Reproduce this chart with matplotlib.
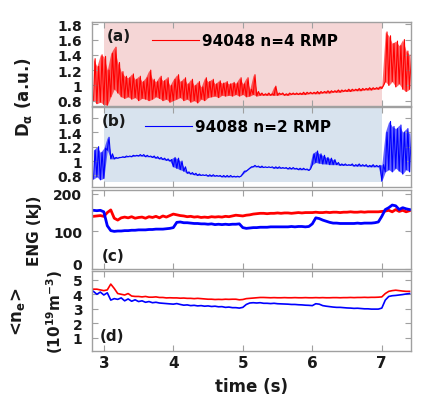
import numpy as np
import matplotlib
matplotlib.use("Agg")
import matplotlib.pyplot as plt

plt.rcParams['font.family'] = ['DejaVu Sans']
plt.rcParams['font.weight'] = 'bold'
plt.rcParams['mathtext.default'] = 'bf'

# ---------------- data ----------------
t_start, t_step, n_pts = 2.85, 0.05, 92
time = np.round(t_start + t_step * np.arange(n_pts), 2)

rmp_start, rmp_end = 3.0, 7.0

# (a) D-alpha 94048, lower / upper envelope of fast oscillation
da_red_lo = [0.80, 0.76, 0.78, 0.75, 0.74, 0.85, 0.95, 0.90, 0.85, 0.83,
             0.85, 0.82, 0.84, 0.80, 0.83, 0.82, 0.80, 0.82, 0.85, 0.83,
             0.80, 0.82, 0.78, 0.80, 0.82, 0.84, 0.80, 0.82, 0.78, 0.80,
             0.77, 0.82, 0.80, 0.84, 0.85, 0.86, 0.84, 0.87, 0.86, 0.87,
             0.86, 0.88, 0.86, 0.88, 0.85, 0.86, 0.88, 0.86, 0.87, 0.87,
             0.87, 0.87, 0.87, 0.87, 0.88, 0.87, 0.87, 0.88, 0.88, 0.88,
             0.88, 0.88, 0.89, 0.89, 0.89, 0.89, 0.90, 0.90, 0.90, 0.91,
             0.91, 0.91, 0.92, 0.92, 0.92, 0.93, 0.93, 0.93, 0.94, 0.94,
             0.94, 0.95, 0.95, 0.96, 1.05, 1.00, 1.05, 0.98, 1.02, 0.95,
             0.92, 0.95]
da_red_hi = [1.35, 1.25, 1.40, 1.38, 1.20, 1.42, 1.50, 1.30, 1.18, 1.12,
             1.10, 1.15, 1.08, 1.12, 1.05, 1.10, 1.20, 1.08, 1.05, 1.12,
             1.06, 1.10, 1.00, 1.08, 1.14, 1.05, 1.10, 1.02, 1.08, 1.00,
             1.05, 0.98, 1.10, 1.05, 1.08, 1.02, 1.06, 1.03, 1.05, 1.02,
             1.04, 1.03, 1.10, 1.02, 1.10, 0.95, 1.14, 0.92, 0.90, 0.89,
             0.90, 0.89, 0.99, 0.90, 0.90, 0.89, 0.90, 0.90, 0.90, 0.90,
             0.91, 0.91, 0.91, 0.91, 0.92, 0.92, 0.92, 0.93, 0.93, 0.93,
             0.94, 0.94, 0.94, 0.95, 0.95, 0.95, 0.96, 0.96, 0.96, 0.97,
             0.97, 0.97, 0.98, 1.00, 1.70, 1.65, 1.55, 1.58, 1.52, 1.60,
             1.45, 1.40]

# (b) D-alpha 94088
da_blue_lo = [0.75, 0.78, 0.74, 0.76, 1.15, 1.03, 1.03, 1.04, 1.05, 1.05,
              1.06, 1.06, 1.07, 1.07, 1.07, 1.06, 1.06, 1.05, 1.04, 1.03,
              1.02, 1.01, 1.00, 0.92, 0.90, 0.88, 0.86, 0.83, 0.82, 0.81,
              0.80, 0.80, 0.80, 0.79, 0.79, 0.79, 0.79, 0.78, 0.78, 0.78,
              0.78, 0.78, 0.78, 0.82, 0.86, 0.90, 0.92, 0.92, 0.91, 0.91,
              0.91, 0.91, 0.90, 0.90, 0.90, 0.90, 0.89, 0.89, 0.89, 0.88,
              0.88, 0.88, 0.87, 0.95, 0.98, 0.97, 0.96, 0.96, 0.95, 0.95,
              0.95, 0.94, 0.94, 0.94, 0.94, 0.93, 0.93, 0.93, 0.93, 0.92,
              0.92, 0.92, 0.92, 0.72, 0.85, 0.88, 0.85, 0.90, 0.86, 0.82,
              0.88, 0.85]
da_blue_hi = [1.15, 1.20, 1.12, 1.18, 1.33, 1.10, 1.05, 1.05, 1.06, 1.07,
              1.07, 1.08, 1.08, 1.09, 1.09, 1.08, 1.07, 1.07, 1.06, 1.05,
              1.04, 1.03, 1.02, 1.05, 1.04, 1.00, 0.92, 0.85, 0.84, 0.83,
              0.82, 0.81, 0.81, 0.81, 0.81, 0.80, 0.80, 0.80, 0.80, 0.80,
              0.79, 0.79, 0.79, 0.86, 0.88, 0.92, 0.94, 0.93, 0.93, 0.92,
              0.92, 0.92, 0.92, 0.92, 0.91, 0.91, 0.91, 0.91, 0.90, 0.90,
              0.90, 0.89, 0.89, 1.10, 1.14, 1.10, 1.08, 1.05, 1.04, 1.02,
              0.98, 0.96, 0.96, 0.95, 0.96, 0.95, 0.96, 0.95, 0.95, 0.94,
              0.95, 0.94, 0.94, 0.95, 1.40, 1.55, 1.48, 1.45, 1.50, 1.40,
              1.45, 1.38]

# (c) stored energy (kJ)
eng_red = [140, 141, 142, 140, 150, 157, 135, 130, 136, 138,
           136, 139, 135, 137, 138, 135, 139, 137, 140, 136,
           141, 138, 142, 146, 144, 142, 141, 139, 140, 138,
           139, 137, 138, 137, 139, 138, 139, 138, 140, 139,
           141, 143, 142, 141, 143, 144, 146, 147, 148, 148,
           147, 148, 148, 149, 148, 149, 149, 148, 149, 150,
           149, 150, 150, 150, 151, 150, 150, 151, 150, 151,
           151, 150, 151, 151, 152, 151, 151, 152, 151, 152,
           152, 152, 152, 153, 154, 156, 152, 158, 153, 156,
           152, 155]
eng_blue = [156, 155, 156, 152, 115, 102, 100, 101, 101, 102,
            102, 103, 103, 104, 104, 104, 105, 105, 106, 106,
            106, 107, 108, 110, 124, 125, 123, 123, 122, 121,
            121, 120, 120, 119, 120, 118, 119, 118, 119, 118,
            119, 119, 120, 110, 108, 109, 110, 110, 111, 111,
            111, 112, 112, 112, 112, 112, 112, 113, 112, 113,
            113, 112, 113, 120, 136, 134, 130, 127, 124, 122,
            122, 121, 121, 121, 121, 121, 122, 121, 122, 122,
            122, 123, 125, 140, 158, 163, 170, 168, 158, 163,
            160, 158]

# (d) line-averaged density (1e19 m^-3)
ne_red = [4.35, 4.35, 4.30, 4.25, 4.30, 4.70, 4.40, 4.05, 4.00, 3.95,
          4.05, 3.88, 3.85, 3.85, 3.82, 3.85, 3.80, 3.80, 3.82, 3.78,
          3.78, 3.75, 3.76, 3.75, 3.75, 3.73, 3.74, 3.72, 3.72, 3.70,
          3.72, 3.70, 3.68, 3.66, 3.66, 3.64, 3.65, 3.64, 3.66, 3.65,
          3.66, 3.66, 3.62, 3.64, 3.70, 3.72, 3.74, 3.76, 3.78, 3.78,
          3.77, 3.76, 3.77, 3.76, 3.76, 3.77, 3.76, 3.76, 3.77, 3.76,
          3.76, 3.77, 3.76, 3.76, 3.77, 3.76, 3.77, 3.76, 3.76, 3.77,
          3.77, 3.76, 3.77, 3.77, 3.78, 3.77, 3.78, 3.78, 3.79, 3.78,
          3.79, 3.79, 3.80, 3.82, 4.05, 4.20, 4.25, 4.28, 4.25, 4.22,
          4.20, 4.20]
ne_blue = [4.20, 4.00, 4.15, 3.95, 4.10, 3.60, 3.70, 3.65, 3.75, 3.55,
           3.68, 3.52, 3.62, 3.50, 3.55, 3.45, 3.50, 3.42, 3.45, 3.40,
           3.38, 3.36, 3.34, 3.32, 3.36, 3.30, 3.25, 3.27, 3.22, 3.24,
           3.20, 3.22, 3.18, 3.20, 3.16, 3.18, 3.14, 3.15, 3.10, 3.12,
           3.08, 3.08, 3.05, 3.10, 3.30, 3.40, 3.42, 3.40, 3.42, 3.38,
           3.38, 3.36, 3.38, 3.35, 3.34, 3.33, 3.32, 3.30, 3.30, 3.28,
           3.27, 3.25, 3.24, 3.22, 3.35, 3.32, 3.22, 3.18, 3.15, 3.12,
           3.10, 3.10, 3.08, 3.06, 3.05, 3.03, 3.04, 3.02, 3.00, 3.00,
           2.98, 2.98, 2.98, 3.05, 3.60, 3.85, 3.90, 3.92, 3.95, 3.98,
           4.02, 4.05]

legend_a = "94048 n=4 RMP"
legend_b = "94088 n=2 RMP"
xticks = [3, 4, 5, 6, 7]
yticks_a = [0.8, 1, 1.2, 1.4, 1.6, 1.8]
yticks_b = [0.8, 1, 1.2, 1.4, 1.6]
yticks_c = [0, 100, 200]
yticks_d = [1, 2, 3, 4, 5]

RED = '#ff0000'
BLUE = '#0000ff'
PINK = '#f5d6d6'
LIGHTBLUE = '#d8e3ee'
SPINE = '#a0a0a0'
TXT = '#1a1a1a'


def zigzag(t, lo, hi):
    t = np.asarray(t, float)
    x = np.empty(2 * len(t))
    y = np.empty(2 * len(t))
    x[0::2] = t
    x[1::2] = t + t_step / 2
    y[0::2] = lo
    y[1::2] = hi
    return x, y


W, H = 423, 402
fig = plt.figure(figsize=(W / 100, H / 100), dpi=100)
fig.patch.set_facecolor('white')

L, R = 92, 411


def add_ax(top, bottom):
    return fig.add_axes([L / W, 1 - bottom / H, (R - L) / W, (bottom - top) / H])


axa = add_ax(23, 107)
axb = add_ax(108, 188)
axc = add_ax(191, 270)
axd = add_ax(272, 352)

xlim = (2.83, 7.42)
for ax in (axa, axb, axc, axd):
    ax.set_xlim(*xlim)
    ax.set_xticks(xticks)
    for s in ax.spines.values():
        s.set_color(SPINE)
        s.set_linewidth(1.0)
    ax.tick_params(direction='in', top=True, right=True, length=4,
                   width=0.8, color=SPINE, labelcolor=TXT, labelsize=10,
                   pad=7)
    ax.tick_params(axis='x', pad=3, labelsize=11)
    for lab in ax.get_xticklabels() + ax.get_yticklabels():
        lab.set_fontweight('bold')

for ax in (axa, axb, axc):
    ax.tick_params(labelbottom=False)


def dense_trace(ax, lo, hi, color):
    ax.fill_between(time, lo, hi, color=color, lw=0, alpha=0.6)
    x, y = zigzag(time, lo, hi)
    line, = ax.plot(x, y, color=color, lw=0.8)
    return line


# (a)
axa.set_ylim(0.73, 1.83)
axa.set_yticks(yticks_a)
axa.set_yticklabels(['0.8', '1', '1.2', '1.4', '1.6', '1.8'])
axa.axvspan(rmp_start, rmp_end, color=PINK, lw=0, zorder=0)
la = dense_trace(axa, da_red_lo, da_red_hi, RED)
axa.legend([la], [legend_a], loc='center left', bbox_to_anchor=(0.188, 0.774),
           frameon=False, borderpad=0, borderaxespad=0, handlelength=3.1,
           handletextpad=0.2, prop={'weight': 'bold', 'size': 11})
axa.text(0.047, 0.845, '(a)', transform=axa.transAxes, fontsize=11,
         fontweight='bold', va='center', ha='left', color=TXT)

# (b)
axb.set_ylim(0.64, 1.75)
axb.set_yticks(yticks_b)
axb.set_yticklabels(['0.8', '1', '1.2', '1.4', '1.6'])
shade_b_bottom = 0.71
axb.fill_between([rmp_start, rmp_end], shade_b_bottom, 1.75, color=LIGHTBLUE,
                 lw=0, zorder=0)
lb = dense_trace(axb, da_blue_lo, da_blue_hi, BLUE)
axb.legend([lb], [legend_b], loc='center left', bbox_to_anchor=(0.166, 0.75),
           frameon=False, borderpad=0, borderaxespad=0, handlelength=3.1,
           handletextpad=0.2, prop={'weight': 'bold', 'size': 11})
axb.text(0.031, 0.83, '(b)', transform=axb.transAxes, fontsize=11,
         fontweight='bold', va='center', ha='left', color=TXT)

# (c)
axc.set_ylim(0, 210)
axc.set_yticks(yticks_c)
axc.plot(time, eng_red, color=RED, lw=2.0)
axc.plot(time, eng_blue, color=BLUE, lw=2.0)
axc.text(0.031, 0.165, '(c)', transform=axc.transAxes, fontsize=11,
         fontweight='bold', va='center', ha='left', color=TXT)
axc.yaxis.get_major_ticks()[0].label1.set_verticalalignment('baseline')

# (d)
axd.set_ylim(0.1, 5.6)
axd.set_yticks(yticks_d)
axd.plot(time, ne_red, color=RED, lw=1.2)
axd.plot(time, ne_blue, color=BLUE, lw=1.2)
axd.text(0.025, 0.19, '(d)', transform=axd.transAxes, fontsize=11,
         fontweight='bold', va='center', ha='left', color=TXT)
axd.set_xlabel('time (s)', fontsize=12, fontweight='bold', color=TXT,
               labelpad=5)

# y labels
fig.text(24 / W, 1 - 97 / H, r'D$_{\alpha}$ (a.u.)', rotation=90,
         ha='center', va='center', fontsize=12, fontweight='bold', color=TXT)
fig.text(35 / W, 1 - 231 / H, 'ENG (kJ)', rotation=90, ha='center',
         va='center', fontsize=11, fontweight='bold', color=TXT)
fig.text(18 / W, 1 - 312 / H, r'<n$_e$>', rotation=90, ha='center',
         va='center', fontsize=12, fontweight='bold', color=TXT)
fig.text(55 / W, 1 - 312 / H, r'(10$^{19}$m$^{-3}$)', rotation=90,
         ha='center', va='center', fontsize=11, fontweight='bold', color=TXT)

fig.savefig('out.png', dpi=100)
